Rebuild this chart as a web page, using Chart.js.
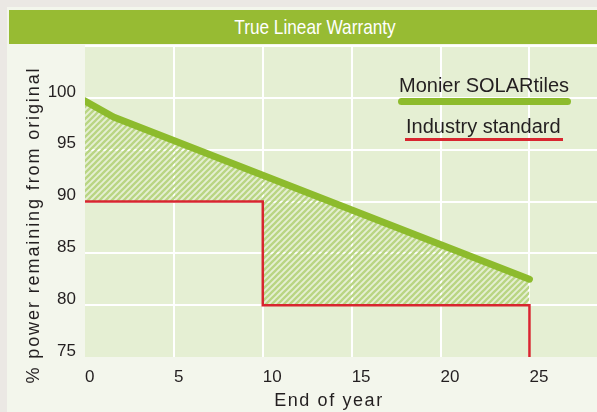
<!DOCTYPE html>
<html>
<head>
<meta charset="utf-8">
<title>True Linear Warranty</title>
<script src="https://cdn.jsdelivr.net/npm/chart.js@4/dist/chart.umd.min.js"></script>
<style>
  html, body { margin: 0; padding: 0; }
  body { width: 597px; height: 412px; background: #ebe8e4; position: relative; overflow: hidden;
         font-family: "Liberation Sans", Arial, sans-serif; color: #231f20; }
  #panel { position: absolute; left: 7px; top: 7px; width: 600px; height: 420px; background: #f3f6ec; }
  #titlebar { position: absolute; left: 9px; top: 10px; width: 600px; height: 34px; background: #97bb33; }
  #titlebar span { position: absolute; left: 306px; top: 4px; font-size: 21px; line-height: 26px; color: #fff;
                   white-space: nowrap; transform: translateX(-50%) scaleX(0.82); }
  #chart { position: absolute; left: 0; top: 0; }
  .lbl { position: absolute; white-space: nowrap; font-size: 20px; line-height: 20px; }
  .swatch { position: absolute; }
  .axis-title { position: absolute; font-size: 18px; line-height: 20px; letter-spacing: 1.9px; white-space: nowrap; text-align: center; }
</style>
</head>
<body>
<div id="panel"></div>
<div id="titlebar"><span>True Linear Warranty</span></div>
<canvas id="chart" width="597" height="412"></canvas>

<div class="lbl" style="left:399px; top:75px;">Monier SOLARtiles</div>
<div class="swatch" style="left:398px; top:98px; width:173px; height:7px; border-radius:4px; background:#8dbb2d;"></div>
<div class="lbl" style="left:406px; top:116px;">Industry standard</div>
<div class="swatch" style="left:405px; top:138px; width:158px; height:2.5px; background:#d8262f;"></div>

<div class="axis-title" style="left:229px; top:390px; width:200px; letter-spacing:1.6px;">End of year</div>
<div class="axis-title" style="left:-147px; top:215px; width:360px; transform:rotate(-90deg);">% power remaining from original</div>

<script>
// warranty curves
const monierYears = [0, 1.6, 25];
const monierPower = [99.7, 98.15, 82.5];

const industryYears = [0, 10, 10, 25, 25];
const industryPower = [90, 90, 80, 80, 75];

const yearTicks = [0, 5, 10, 15, 20, 25];
const powerTicks = [75, 80, 85, 90, 95, 100];

const toPoints = (xs, ys) => xs.map((x, i) => ({ x: x, y: ys[i] }));

// diagonal hatch used between the two curves
function makeHatch(ctx) {
    const tile = document.createElement('canvas');
    tile.width = 6;
    tile.height = 6;
    const g = tile.getContext('2d');
    g.strokeStyle = '#b9d583';
    g.lineWidth = 2.3;
    g.beginPath();
    g.moveTo(0, 6); g.lineTo(6, 0);
    g.moveTo(-3, 3); g.lineTo(3, -3);
    g.moveTo(3, 9); g.lineTo(9, 3);
    g.stroke();
    return ctx.createPattern(tile, 'repeat');
}

// light green behind the plot only
const plotBackground = {
    id: 'plotBackground',
    beforeDraw(chart) {
        const { ctx, chartArea: a } = chart;
        ctx.save();
        ctx.fillStyle = '#e5efd3';
        ctx.fillRect(a.left, a.top, a.right - a.left, a.bottom - a.top);
        ctx.restore();
    }
};

const ctx = document.getElementById('chart').getContext('2d');
const tickFont = { family: '"Liberation Sans", Arial, sans-serif', size: 17 };

new Chart(ctx, {
    type: 'line',
    data: {
        datasets: [
            {
                label: 'Monier SOLARtiles',
                data: toPoints(monierYears, monierPower),
                borderColor: '#8dbb2d',
                borderWidth: 7,
                borderCapStyle: 'round',
                borderJoinStyle: 'round',
                pointRadius: 0,
                fill: { target: 1 },
                backgroundColor: makeHatch(ctx),
                order: 1
            },
            {
                label: 'Industry standard',
                data: toPoints(industryYears, industryPower),
                borderColor: '#d8262f',
                borderWidth: 2.5,
                pointRadius: 0,
                fill: false,
                order: 0
            }
        ]
    },
    options: {
        responsive: false,
        animation: false,
        devicePixelRatio: 1,
        layout: { padding: { top: 46, left: 0, right: 0, bottom: 0 } },
        plugins: {
            legend: { display: false },
            tooltip: { enabled: false }
        },
        scales: {
            x: {
                type: 'linear',
                min: 0,
                max: 28.8,
                afterFit: (s) => { s.height = 55; },
                afterBuildTicks: (s) => { s.ticks = yearTicks.map(v => ({ value: v })); },
                border: { display: false },
                grid: {
                    drawTicks: false,
                    lineWidth: 2,
                    color: (c) => (c.tick && c.tick.value === 0) ? 'rgba(0,0,0,0)' : '#ffffff'
                },
                ticks: { align: 'start', padding: 10, color: '#231f20', font: tickFont }
            },
            y: {
                min: 75,
                max: 105,
                afterFit: (s) => { s.width = 85; },
                afterBuildTicks: (s) => { s.ticks = powerTicks.concat([105]).map(v => ({ value: v })); },
                border: { display: false },
                grid: {
                    drawTicks: false,
                    lineWidth: 2,
                    color: (c) => (c.tick && c.tick.value === 75) ? 'rgba(0,0,0,0)' : '#ffffff'
                },
                ticks: {
                    padding: 9,
                    labelOffset: -6,
                    color: '#231f20',
                    font: tickFont,
                    callback: (v) => v > 100 ? '' : v
                }
            }
        }
    },
    plugins: [plotBackground]
});
</script>
</body>
</html>
